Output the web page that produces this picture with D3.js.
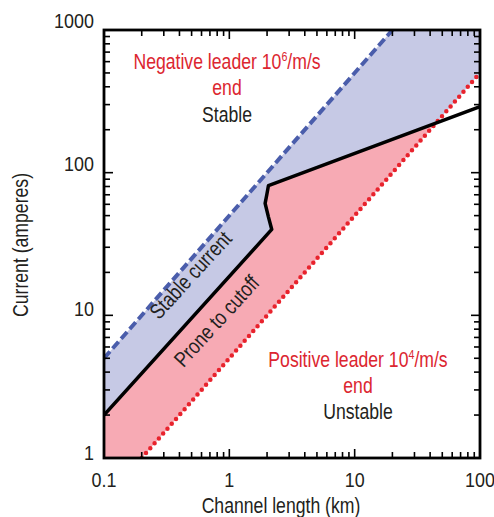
<!DOCTYPE html>
<html><head><meta charset="utf-8">
<script src="https://cdn.jsdelivr.net/npm/d3@7"></script>
<style>
body{margin:0;background:#fff}
text{font-family:"Liberation Sans",Arial,sans-serif}
</style>
</head><body>
<svg id="c" width="494" height="517"></svg>
<script>
// ---- data ----
const xTicks = [0.1, 1, 10, 100];
const xTickLabels = ["0.1", "1", "10", "100"];
const yTicks = [1, 10, 100, 1000];
const yTickLabels = ["1", "10", "100", "1000"];
// negative-leader (10^6 /m/s) boundary, blue dashed
const negL = [0.1, 20];
const negI = [5, 1000];
// positive-leader (10^4 /m/s) boundary, red dotted
const posL = [0.2, 100];
const posI = [1, 500];
// stable-current threshold, black
const thrL = [0.1, 2.18, 2.05, 1.93, 1.99, 2.05, 100];
const thrI = [2, 40, 49, 61, 70, 81, 290];

const W = 494, H = 517;
const m = {l:104, r:480, t:30, b:458};
const svg = d3.select("#c");
const x = d3.scaleLog().domain([0.1, 100]).range([m.l, m.r]);
const y = d3.scaleLog().domain([1, 1000]).range([m.b, m.t]);

const C = {blueFill:"#c6c9e5", pinkFill:"#f7aab4", blue:"#4a5dab", red:"#e8232d", redText:"#dc2630", dark:"#231f20"};
const SX = 0.82; // condensed look for words
const SXN = 0.92; // tick numerals

// intersection of last threshold segment with positive line (log space)
const lg = Math.log10;
const n = thrL.length;
const a0 = [lg(thrL[n-2]), lg(thrI[n-2])], a1 = [lg(thrL[n-1]), lg(thrI[n-1])];
const pS = (lg(posI[1]) - lg(posI[0])) / (lg(posL[1]) - lg(posL[0]));
const posAt = lx => lg(posI[0]) + pS * (lx - lg(posL[0]));
const f0 = a0[1] - posAt(a0[0]), f1 = a1[1] - posAt(a1[0]);
const t = f0 / (f0 - f1);
const ix = [Math.pow(10, a0[0] + t*(a1[0]-a0[0])), Math.pow(10, a0[1] + t*(a1[1]-a0[1]))];

const thrPts = thrL.map((L,i)=>[L, thrI[i]]);
const thrBefore = thrPts.slice(0, n-1);

const line = d3.line().x(d=>x(d[0])).y(d=>y(d[1]));

svg.append("clipPath").attr("id","clip").append("rect")
  .attr("x", m.l).attr("y", m.t).attr("width", m.r-m.l).attr("height", m.b-m.t);
const g = svg.append("g").attr("clip-path","url(#clip)");

// blue region
const bluePoly = [[negL[0], negI[0]], [negL[1], negI[1]], [100, 1000], [100, Math.pow(10, posAt(lg(100)))], ix]
  .concat(thrBefore.slice().reverse());
g.append("path").attr("d", line(bluePoly) + "Z").attr("fill", C.blueFill);

// pink region
const pinkPoly = thrBefore.concat([ix, [posL[0], posI[0]], [0.1, 1]]);
g.append("path").attr("d", line(pinkPoly) + "Z").attr("fill", C.pinkFill);

// lines
g.append("path").attr("d", line(negL.map((L,i)=>[L,negI[i]])))
  .attr("fill","none").attr("stroke", C.blue).attr("stroke-width", 4)
  .attr("stroke-dasharray","9 4");
g.append("path").attr("d", line(posL.map((L,i)=>[L,posI[i]])))
  .attr("fill","none").attr("stroke", C.red).attr("stroke-width", 4.5)
  .attr("stroke-linecap","round").attr("stroke-dasharray","0 6.5");
g.append("path").attr("d", line(thrPts))
  .attr("fill","none").attr("stroke", "#000").attr("stroke-width", 3.5)
  .attr("stroke-linejoin","round");

// ticks (inward on all four sides)
const minorX = [], minorY = [];
[0.1, 1, 10].forEach(d => { for (let k=2;k<=9;k++) minorX.push(d*k); });
[1, 10, 100].forEach(d => { for (let k=2;k<=9;k++) minorY.push(d*k); });
const tk = svg.append("g").attr("stroke","#000").attr("stroke-width",1.6);
function xt(v, len){
  tk.append("line").attr("x1",x(v)).attr("x2",x(v)).attr("y1",m.b).attr("y2",m.b-len);
  tk.append("line").attr("x1",x(v)).attr("x2",x(v)).attr("y1",m.t).attr("y2",m.t+len);
}
function yt(v, len){
  tk.append("line").attr("y1",y(v)).attr("y2",y(v)).attr("x1",m.l).attr("x2",m.l+len);
  tk.append("line").attr("y1",y(v)).attr("y2",y(v)).attr("x1",m.r).attr("x2",m.r-len);
}
minorX.forEach(v=>xt(v,6)); xTicks.forEach(v=>xt(v,9));
minorY.forEach(v=>yt(v,6)); yTicks.forEach(v=>yt(v,9));

svg.append("rect").attr("x",m.l).attr("y",m.t).attr("width",m.r-m.l).attr("height",m.b-m.t)
  .attr("fill","none").attr("stroke","#000").attr("stroke-width",2.8);

// text helper (horizontally condensed)
function txt(px, py, str, size, fill, anchor, rot, sx){
  return svg.append("text")
    .attr("transform", `translate(${px},${py}) rotate(${rot||0}) scale(${sx||SX},1)`)
    .attr("text-anchor", anchor||"middle").attr("font-size", size).attr("fill", fill).text(str);
}

xTicks.forEach((v,i)=> txt(x(v), 487, xTickLabels[i], 19.5, C.dark, "middle", 0, SXN));
const yOff = {1:2, 10:1, 100:-2, 1000:-2.5};
yTicks.forEach((v,i)=> txt(94, y(v) + yOff[v], yTickLabels[i], 19.5, C.dark, "end", 0, SXN));

txt(281, 513, "Channel length (km)", 21.5, C.dark, "middle");
txt(28, 245, "Current (amperes)", 21.5, C.dark, "middle", -90);

function leaderLabel(cx, y0, exp, sign){
  const t1 = txt(cx, y0, "", 21.5, C.redText, "middle");
  t1.append("tspan").text(sign + " leader 10");
  t1.append("tspan").attr("font-size", 13).attr("dy", -8).text(exp);
  t1.append("tspan").attr("dy", 8).text("/m/s");
  txt(cx, y0+26, "end", 21.5, C.redText, "middle");
}
leaderLabel(227, 69, "6", "Negative");
txt(227, 121.5, "Stable", 21.5, C.dark, "middle");
leaderLabel(358, 366.5, "4", "Positive");
txt(358, 419, "Unstable", 21.5, C.dark, "middle");

txt(196, 280, "Stable current", 21.5, C.dark, "middle", -47.5);
txt(222, 326, "Prone to cutoff", 21.5, C.dark, "middle", -47.5);
</script>
</body></html>
